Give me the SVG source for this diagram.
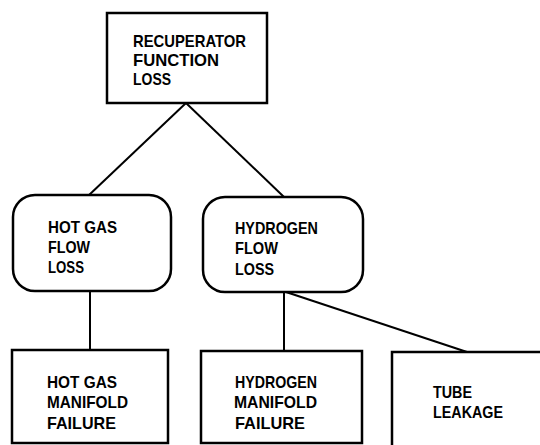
<svg xmlns="http://www.w3.org/2000/svg" width="540" height="445" viewBox="0 0 540 445">
<style>
.box{fill:#fff;stroke:#000;stroke-width:2.5}
.ln{fill:none;stroke:#000;stroke-width:2}
text{font-family:"Liberation Sans",Arial,sans-serif;font-size:17px;fill:#000;font-weight:bold}
</style>
<rect width="540" height="445" fill="#fff"/>
<g id="connectors">
<line class="ln" x1="186" y1="103" x2="88" y2="196"/>
<line class="ln" x1="186" y1="103" x2="284" y2="197"/>
<line class="ln" x1="90" y1="291" x2="90" y2="350"/>
<line class="ln" x1="284" y1="292" x2="284" y2="351"/>
<line class="ln" x1="286" y1="292" x2="467" y2="352"/>
</g>
<g id="recuperator">
<rect class="box" x="107" y="13" width="160" height="90"/>
<text x="133" y="47" textLength="113" lengthAdjust="spacingAndGlyphs">RECUPERATOR</text>
<text x="133" y="66" textLength="86" lengthAdjust="spacingAndGlyphs">FUNCTION</text>
<text x="133" y="85" textLength="38" lengthAdjust="spacingAndGlyphs">LOSS</text>
</g>
<g id="hotgasflow">
<rect class="box" x="13" y="195" width="158" height="96" rx="22"/>
<text x="48" y="233" textLength="69" lengthAdjust="spacingAndGlyphs">HOT GAS</text>
<text x="48" y="253" textLength="42" lengthAdjust="spacingAndGlyphs">FLOW</text>
<text x="48" y="273" textLength="36" lengthAdjust="spacingAndGlyphs">LOSS</text>
</g>
<g id="hydrogenflow">
<rect class="box" x="203" y="197" width="160" height="95" rx="22"/>
<text x="235" y="234" textLength="83" lengthAdjust="spacingAndGlyphs">HYDROGEN</text>
<text x="235" y="254" textLength="43" lengthAdjust="spacingAndGlyphs">FLOW</text>
<text x="235" y="275" textLength="39" lengthAdjust="spacingAndGlyphs">LOSS</text>
</g>
<g id="hotgasmanifold">
<rect class="box" x="12" y="350" width="156" height="93"/>
<text x="47" y="388" textLength="70" lengthAdjust="spacingAndGlyphs">HOT GAS</text>
<text x="47" y="408" textLength="81" lengthAdjust="spacingAndGlyphs">MANIFOLD</text>
<text x="47" y="429" textLength="69" lengthAdjust="spacingAndGlyphs">FAILURE</text>
</g>
<g id="hydrogenmanifold">
<rect class="box" x="201" y="351" width="161" height="92"/>
<text x="235" y="388" textLength="82" lengthAdjust="spacingAndGlyphs">HYDROGEN</text>
<text x="234" y="408" textLength="83" lengthAdjust="spacingAndGlyphs">MANIFOLD</text>
<text x="235" y="429" textLength="70" lengthAdjust="spacingAndGlyphs">FAILURE</text>
</g>
<g id="tubeleakage">
<rect class="box" x="392" y="352" width="200" height="120"/>
<text x="433" y="398" textLength="39" lengthAdjust="spacingAndGlyphs">TUBE</text>
<text x="433" y="418" textLength="70" lengthAdjust="spacingAndGlyphs">LEAKAGE</text>
</g>
</svg>
